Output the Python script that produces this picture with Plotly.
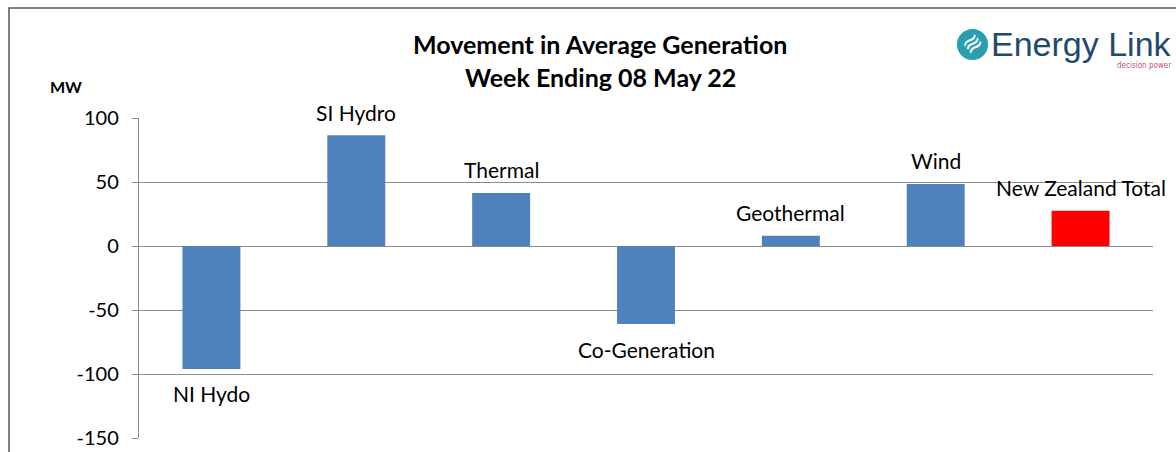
import plotly.graph_objects as go

categories = ["NI Hydo", "SI Hydro", "Thermal", "Co-Generation", "Geothermal", "Wind", "New Zealand Total"]
values = [-96, 86.5, 41.5, -61, 8, 48.5, 27.5]
bar_colors = ["#4f81bd"] * 6 + ["#ff0000"]
y_ticks = [100, 50, 0, -50, -100, -150]

FONT = "Lato"
GRID = "#8c8c8c"

fig = go.Figure()
fig.add_trace(go.Bar(
    x=categories, y=values, marker=dict(color=bar_colors, line=dict(width=0)),
    width=0.4, hoverinfo="x+y",
))

annotations = []
for c, v in zip(categories, values):
    annotations.append(dict(
        x=c, y=v, xref="x", yref="y", text=c, showarrow=False,
        yanchor="middle", xanchor="center",
        yshift=23 if v >= 0 else -25,
        font=dict(family=FONT, size=21, color="#000000"),
    ))

# plot area pixel geometry
L, R, T, B = 139, 1153, 118, 438
W, H = R - L, B - T

def px(x):
    return (x - L) / W

def py(y):
    return (B - y) / H

annotations.append(dict(
    xref="paper", yref="paper", x=px(66), y=py(87), text="<b>MW</b>", showarrow=False,
    xanchor="center", yanchor="middle", font=dict(family=FONT, size=16, color="#000000"),
))
annotations.append(dict(
    xref="paper", yref="paper", x=px(600), y=py(44), text="<b>Movement in Average Generation</b>",
    showarrow=False, xanchor="center", yanchor="middle",
    font=dict(family=FONT, size=25, color="#000000"),
))
annotations.append(dict(
    xref="paper", yref="paper", x=px(600), y=py(77), text="<b>Week Ending 08 May 22</b>",
    showarrow=False, xanchor="center", yanchor="middle",
    font=dict(family=FONT, size=25, color="#000000"),
))
# logo
annotations.append(dict(
    xref="paper", yref="paper", x=px(989), y=py(44), text="Energy Link",
    showarrow=False, xanchor="left", yanchor="middle",
    font=dict(family="Liberation Sans", size=34, color="#1f4a6e"),
))
annotations.append(dict(
    xref="paper", yref="paper", x=px(1173), y=py(66), text="decision power",
    showarrow=False, xanchor="right", yanchor="middle",
    font=dict(family="DejaVu Sans Condensed", size=8, color="#c9506c"),
))
annotations.append(dict(
    xref="paper", yref="paper", x=px(972.5), y=py(44.5), text="≋",
    showarrow=False, xanchor="center", yanchor="middle", textangle=-40,
    font=dict(family="DejaVu Sans", size=24, color="#ffffff"),
))

shapes = [
    dict(type="rect", xref="paper", yref="paper", x0=px(9), x1=px(1190), y0=py(8), y1=py(470),
         line=dict(color="#555555", width=1.5), fillcolor="rgba(0,0,0,0)", layer="below"),
    dict(type="circle", xref="paper", yref="paper", x0=px(957), x1=px(988), y0=py(60), y1=py(29),
         line=dict(width=0), fillcolor="#2a9db1", layer="below"),
]

fig.update_layout(
    width=1176, height=452,
    margin=dict(l=L, r=1176 - R, t=T, b=452 - B, autoexpand=False),
    paper_bgcolor="#ffffff", plot_bgcolor="#ffffff",
    showlegend=False,
    annotations=annotations, shapes=shapes,
    xaxis=dict(showticklabels=False, showgrid=False, zeroline=False, showline=False,
               ticks="", range=[-0.5, 6.5], automargin=False),
    yaxis=dict(range=[-150, 100], tickvals=y_ticks, ticktext=[str(t) for t in y_ticks],
               automargin=False,
               showgrid=True, gridcolor=GRID, gridwidth=1.4,
               zeroline=True, zerolinecolor=GRID, zerolinewidth=1.4,
               showline=True, linecolor=GRID, linewidth=1.4,
               ticks="outside", ticklen=6, tickcolor=GRID, tickwidth=1.4,
               ticklabelstandoff=9,
               tickfont=dict(family=FONT, size=20, color="#000000")),
    font=dict(family=FONT),
)

fig.write_html(
    "out.html",
    config={"displayModeBar": False},
    post_script="document.body.style.margin='0';document.body.style.overflow='hidden';",
)
